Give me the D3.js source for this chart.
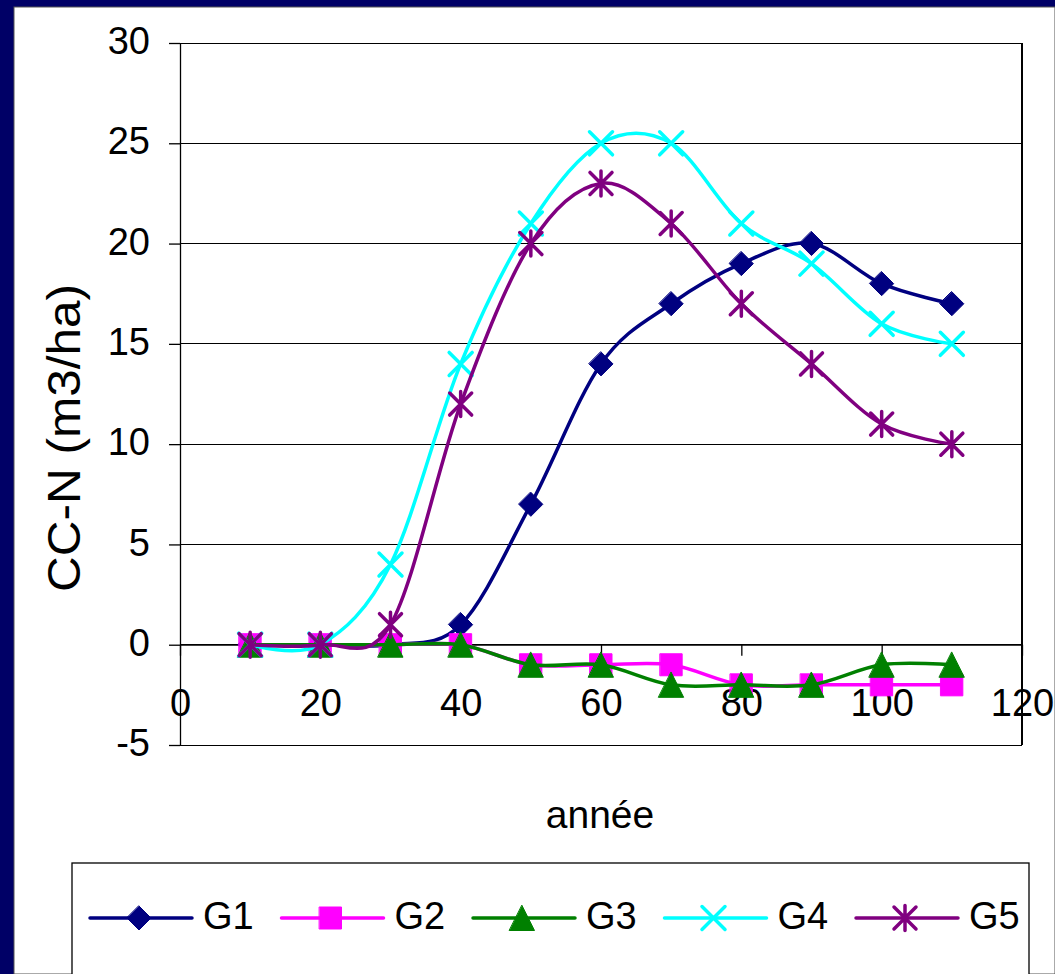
<!DOCTYPE html>
<html>
<head>
<meta charset="utf-8">
<title>CC-N par année</title>
<script src="https://cdn.jsdelivr.net/npm/d3@7/dist/d3.min.js"></script>
<style>
  html, body { margin: 0; padding: 0; background: #fff; }
  svg { display: block; }
  text { font-family: "Liberation Sans", Arial, sans-serif; fill: #000; }
</style>
</head>
<body>
<svg id="chart" width="1055" height="974"></svg>
<script>
// Years and values per group (CC-N, m3/ha)
const years = [10, 20, 30, 40, 50, 60, 70, 80, 90, 100, 110];
const g1 = [0, 0, 0, 1, 7, 14, 17, 19, 20, 18, 17];
const g2 = [0, 0, 0, 0, -1, -1, -1, -2, -2, -2, -2];
const g3 = [0, 0, 0, 0, -1, -1, -2, -2, -2, -1, -1];
const g4 = [0, 0, 4, 14, 21, 25, 25, 21, 19, 16, 15];
const g5 = [0, 0, 1, 12, 20, 23, 21, 17, 14, 11, 10];
const seriesNames = ["G1", "G2", "G3", "G4", "G5"];
const xTicks = [0, 20, 40, 60, 80, 100, 120];
const yTicks = [-5, 0, 5, 10, 15, 20, 25, 30];

const seriesValues = [g1, g2, g3, g4, g5];
const colors = ["#000080", "#ff00ff", "#008000", "#00ffff", "#800080"];
const markers = ["diamond", "square", "triangle", "times", "star"];

const W = 1055, H = 974;
const svg = d3.select("#chart");

// Navy frame around the white panel
svg.append("rect").attr("x", 0).attr("y", 0).attr("width", W).attr("height", H).attr("fill", "#000066");
svg.append("rect").attr("x", 14).attr("y", 7).attr("width", W - 14).attr("height", H - 7)
  .attr("fill", "#fff").attr("stroke", "#555").attr("stroke-width", 1);

const x = d3.scaleLinear().domain([0, 120]).range([180, 1022]);
const y = d3.scaleLinear().domain([-5, 30]).range([745, 43]);

// Horizontal gridlines and plot border
const plot = svg.append("g");
plot.selectAll("line.grid").data(yTicks).join("line")
  .attr("class", "grid")
  .attr("x1", x(0)).attr("x2", x(120))
  .attr("y1", d => y(d)).attr("y2", d => y(d))
  .attr("stroke", "#000").attr("stroke-width", 1).attr("shape-rendering", "crispEdges");
plot.append("line").attr("x1", x(120)).attr("x2", x(120)).attr("y1", y(30)).attr("y2", y(-5))
  .attr("stroke", "#000").attr("stroke-width", 1.5).attr("shape-rendering", "crispEdges");

const fmt = d => String(d);

// Y axis
const yAxis = svg.append("g").attr("transform", `translate(${x(0)},0)`)
  .call(d3.axisLeft(y).tickValues(yTicks).tickFormat(fmt).tickSize(11).tickPadding(19).tickSizeOuter(0));
yAxis.selectAll("text").attr("font-size", 38).attr("dy", "0.28em")
  .style("font-family", '"Liberation Sans", Arial, sans-serif');

// X axis crossing at zero
const xAxis = svg.append("g").attr("transform", `translate(0,${y(0)})`)
  .call(d3.axisBottom(x).tickValues(xTicks).tickFormat(fmt).tickSize(11).tickPadding(33).tickSizeOuter(0));
xAxis.selectAll("text").attr("font-size", 38)
  .style("font-family", '"Liberation Sans", Arial, sans-serif');
svg.selectAll(".domain, .tick line").attr("stroke", "#000").attr("stroke-width", 1.3);

// Axis titles
svg.append("text").attr("x", 600).attr("y", 828).attr("text-anchor", "middle")
  .attr("font-size", 39).text("année");
svg.append("text").attr("transform", "translate(80,438) rotate(-90)")
  .attr("text-anchor", "middle").attr("font-size", 46)
  .attr("textLength", 308).attr("lengthAdjust", "spacingAndGlyphs")
  .text("CC-N (m3/ha)");

// Marker shapes, drawn around (0,0)
function markerPath(type) {
  const p = d3.path();
  if (type === "diamond") {
    p.moveTo(0, -12); p.lineTo(12, 0); p.lineTo(0, 12); p.lineTo(-12, 0); p.closePath();
  } else if (type === "square") {
    p.rect(-11, -11, 22, 22);
  } else if (type === "triangle") {
    p.moveTo(0, -12.5); p.lineTo(12.5, 12.5); p.lineTo(-12.5, 12.5); p.closePath();
  } else if (type === "times") {
    p.moveTo(-11.5, -11.5); p.lineTo(11.5, 11.5); p.moveTo(-11.5, 11.5); p.lineTo(11.5, -11.5);
  } else if (type === "star") {
    p.moveTo(-11, -11); p.lineTo(11, 11); p.moveTo(-11, 11); p.lineTo(11, -11);
    p.moveTo(0, -12.5); p.lineTo(0, 12.5);
  }
  return p.toString();
}
function drawMarker(g, type, color) {
  const stroked = type === "times" || type === "star";
  g.append("path").attr("d", markerPath(type))
    .attr("fill", stroked ? "none" : color)
    .attr("stroke", color)
    .attr("stroke-width", stroked ? 3.5 : 1)
    .attr("stroke-linejoin", "round")
    .attr("stroke-linecap", "round");
}

const line = d3.line().x(d => x(d[0])).y(d => y(d[1])).curve(d3.curveCardinal.tension(0));

// Series: smoothed line then markers
seriesValues.forEach((vals, i) => {
  const pts = years.map((yr, j) => [yr, vals[j]]);
  const g = svg.append("g").attr("class", "series-" + seriesNames[i]);
  g.append("path").attr("d", line(pts)).attr("fill", "none")
    .attr("stroke", colors[i]).attr("stroke-width", 3.5)
    .attr("stroke-linejoin", "round").attr("stroke-linecap", "round");
  pts.forEach(p => {
    const m = g.append("g").attr("transform", `translate(${x(p[0])},${y(p[1])})`);
    drawMarker(m, markers[i], colors[i]);
  });
});

// Legend
const legend = svg.append("g");
legend.append("rect").attr("x", 72).attr("y", 863).attr("width", 957).attr("height", 140)
  .attr("fill", "#fff").attr("stroke", "#000").attr("stroke-width", 1.3);
seriesNames.forEach((name, i) => {
  const x0 = 90 + i * 191.5;
  const item = legend.append("g").attr("transform", `translate(${x0},918)`);
  item.append("line").attr("x1", 0).attr("x2", 102).attr("y1", 0).attr("y2", 0)
    .attr("stroke", colors[i]).attr("stroke-width", 3.5).attr("stroke-linecap", "round");
  const m = item.append("g").attr("transform", "translate(49,0)");
  drawMarker(m, markers[i], colors[i]);
  item.append("text").attr("x", 113).attr("y", 11).attr("font-size", 38).text(name);
});
</script>
</body>
</html>
